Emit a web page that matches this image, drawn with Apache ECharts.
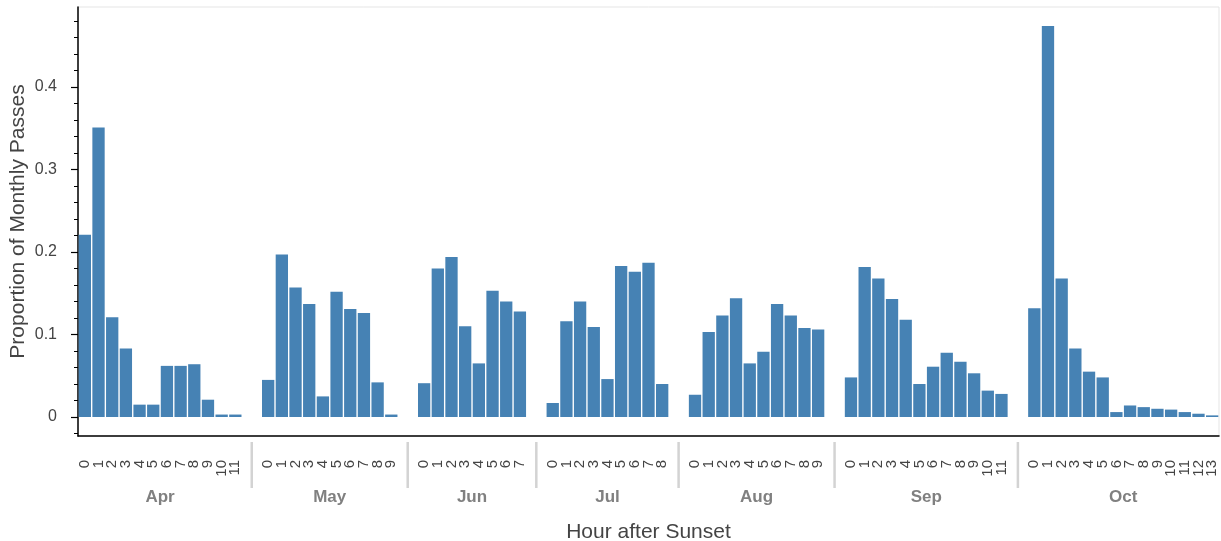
<!DOCTYPE html>
<html>
<head>
<meta charset="utf-8">
<script src="https://cdn.jsdelivr.net/npm/echarts@6/dist/echarts.min.js"></script>
<style>
html,body{margin:0;padding:0;background:#fff;}
#chart{width:1221px;height:541px;}
</style>
</head>
<body>
<div id="chart"></div>
<script>
// ---- data ----
const months = ['Apr', 'May', 'Jun', 'Jul', 'Aug', 'Sep', 'Oct'];
const hoursApr = ['0','1','2','3','4','5','6','7','8','9','10','11'];
const hoursMay = ['0','1','2','3','4','5','6','7','8','9'];
const hoursJun = ['0','1','2','3','4','5','6','7'];
const hoursJul = ['0','1','2','3','4','5','6','7','8'];
const hoursAug = ['0','1','2','3','4','5','6','7','8','9'];
const hoursSep = ['0','1','2','3','4','5','6','7','8','9','10','11'];
const hoursOct = ['0','1','2','3','4','5','6','7','8','9','10','11','12','13'];

const apr = [0.221, 0.351, 0.121, 0.083, 0.015, 0.015, 0.062, 0.062, 0.064, 0.021, 0.003, 0.003];
const may = [0.045, 0.197, 0.157, 0.137, 0.025, 0.152, 0.131, 0.126, 0.042, 0.003];
const jun = [0.041, 0.180, 0.194, 0.110, 0.065, 0.153, 0.140, 0.128];
const jul = [0.017, 0.116, 0.140, 0.109, 0.046, 0.183, 0.176, 0.187, 0.040];
const aug = [0.027, 0.103, 0.123, 0.144, 0.065, 0.079, 0.137, 0.123, 0.108, 0.106];
const sep = [0.048, 0.182, 0.168, 0.143, 0.118, 0.040, 0.061, 0.078, 0.067, 0.053, 0.032, 0.028];
const oct = [0.132, 0.474, 0.168, 0.083, 0.055, 0.048, 0.006, 0.014, 0.012, 0.010, 0.009, 0.006, 0.004, 0.002];

const yMajorTicks = [0, 0.1, 0.2, 0.3, 0.4];
const yMinorTicks = [-0.02, 0, 0.02, 0.04, 0.06, 0.08, 0.1, 0.12, 0.14, 0.16, 0.18, 0.2, 0.22, 0.24, 0.26, 0.28, 0.3, 0.32, 0.34, 0.36, 0.38, 0.4, 0.42, 0.44, 0.46, 0.48];

// ---- nested categorical layout (factor range) ----
const groupHours = [hoursApr, hoursMay, hoursJun, hoursJul, hoursAug, hoursSep, hoursOct];
const groupValues = [apr, may, jun, jul, aug, sep, oct];
const GROUP_PAD = 1.4;
const BAR_W = 0.9;

const barData = [];
const hourPos = [0];            // phantom label at the range start (hidden via showMinLabel:false)
const hourLabelMap = {};
const groupCenters = [];
const groupLabelMap = {};
const separators = [];
let cursor = 0;
groupValues.forEach((vals, g) => {
  const start = cursor;
  vals.forEach((v, i) => {
    const x = cursor + 0.5;
    barData.push([x, v, months[g], groupHours[g][i]]);
    hourPos.push(x);
    hourLabelMap[x.toFixed(2)] = groupHours[g][i];
    cursor += 1;
  });
  const c = (start + cursor) / 2;
  groupCenters.push(c);
  groupLabelMap[c.toFixed(2)] = months[g];
  if (g < groupValues.length - 1) {
    separators.push(cursor + GROUP_PAD / 2);
    cursor += GROUP_PAD;
  }
});
const xMax = cursor;
hourPos.push(xMax);             // phantom label at the range end
const Y_MIN = -0.023, Y_MAX = 0.497;

const FONT = '"Liberation Sans", Arial, sans-serif';

const chart = echarts.init(document.getElementById('chart'), null, {renderer: 'canvas'});
chart.setOption({
  animation: false,
  backgroundColor: '#ffffff',
  grid: {
    left: 78, right: 2, top: 7, bottom: 105,
    containLabel: false, outerBoundsMode: 'none',
    show: true, borderColor: '#e5e5e5', borderWidth: 1, backgroundColor: 'transparent'
  },
  xAxis: [
    {
      type: 'value', min: 0, max: xMax, position: 'bottom',
      splitLine: {show: false},
      axisLine: {show: true, onZero: false, lineStyle: {color: '#000', width: 1.5}},
      axisTick: {show: false},
      axisLabel: {
        customValues: hourPos,
        showMinLabel: false, showMaxLabel: false, hideOverlap: false,
        rotate: 90, margin: 24, lineHeight: 11,
        fontSize: 15, color: '#444444', fontFamily: FONT,
        formatter: v => hourLabelMap[Number(v).toFixed(2)] || ' '
      },
      name: 'Hour after Sunset', nameLocation: 'middle', nameGap: 86, nameMoveOverlap: false,
      nameTextStyle: {fontSize: 21, color: '#444444', fontFamily: FONT}
    },
    {
      type: 'value', min: 0, max: xMax, position: 'bottom', offset: 6,
      splitLine: {show: false},
      axisLine: {show: false},
      axisTick: {show: false},
      axisLabel: {
        customValues: groupCenters, margin: 47,
        showMinLabel: true, showMaxLabel: true, hideOverlap: false,
        fontSize: 17, fontWeight: 'bold', color: '#808080', fontFamily: FONT,
        formatter: v => groupLabelMap[Number(v).toFixed(2)] || ''
      }
    }
  ],
  yAxis: [
    {
      type: 'value', min: Y_MIN, max: Y_MAX, position: 'left',
      splitLine: {show: false},
      axisLine: {show: true, onZero: false, lineStyle: {color: '#000', width: 1.5}},
      axisTick: {show: true, customValues: yMajorTicks, length: 7, lineStyle: {color: '#000', width: 1.2}},
      axisLabel: {
        customValues: yMajorTicks, margin: 21,
        showMinLabel: true, showMaxLabel: true,
        fontSize: 16, color: '#444444', fontFamily: FONT,
        formatter: v => (Math.abs(v) < 1e-9 ? '0' : Number(v).toFixed(1))
      },
      name: 'Proportion of Monthly Passes', nameLocation: 'middle', nameGap: 49, nameMoveOverlap: false,
      nameTextStyle: {fontSize: 21, color: '#444444', fontFamily: FONT}
    },
    {
      type: 'value', min: Y_MIN, max: Y_MAX, position: 'left',
      splitLine: {show: false},
      axisLine: {show: false},
      axisTick: {show: true, customValues: yMinorTicks, length: 4, lineStyle: {color: '#000', width: 1}},
      axisLabel: {show: false}
    }
  ],
  series: [
    {
      type: 'custom',
      name: 'bars',
      xAxisIndex: 0, yAxisIndex: 0,
      data: barData,
      encode: {x: 0, y: 1},
      renderItem: function (params, api) {
        const x = api.value(0), y = api.value(1);
        const p0 = api.coord([x - BAR_W / 2, 0]);
        const p1 = api.coord([x + BAR_W / 2, y]);
        return {
          type: 'rect',
          shape: {x: p0[0], y: p1[1], width: p1[0] - p0[0], height: p0[1] - p1[1]},
          style: {fill: '#4682b4'}
        };
      }
    },
    {
      // group separators of the nested categorical axis (drawn below the axis line)
      type: 'custom',
      name: 'separators',
      xAxisIndex: 0, yAxisIndex: 0,
      clip: false, silent: true,
      data: separators.map(s => [s, Y_MIN]),
      encode: {x: 0, y: 1},
      renderItem: function (params, api) {
        const p = api.coord([api.value(0), Y_MIN]);
        return {
          type: 'line',
          shape: {x1: p[0], y1: p[1] + 6, x2: p[0], y2: p[1] + 52},
          style: {stroke: '#d3d3d3', lineWidth: 2.5}
        };
      }
    }
  ]
});
</script>
</body>
</html>
